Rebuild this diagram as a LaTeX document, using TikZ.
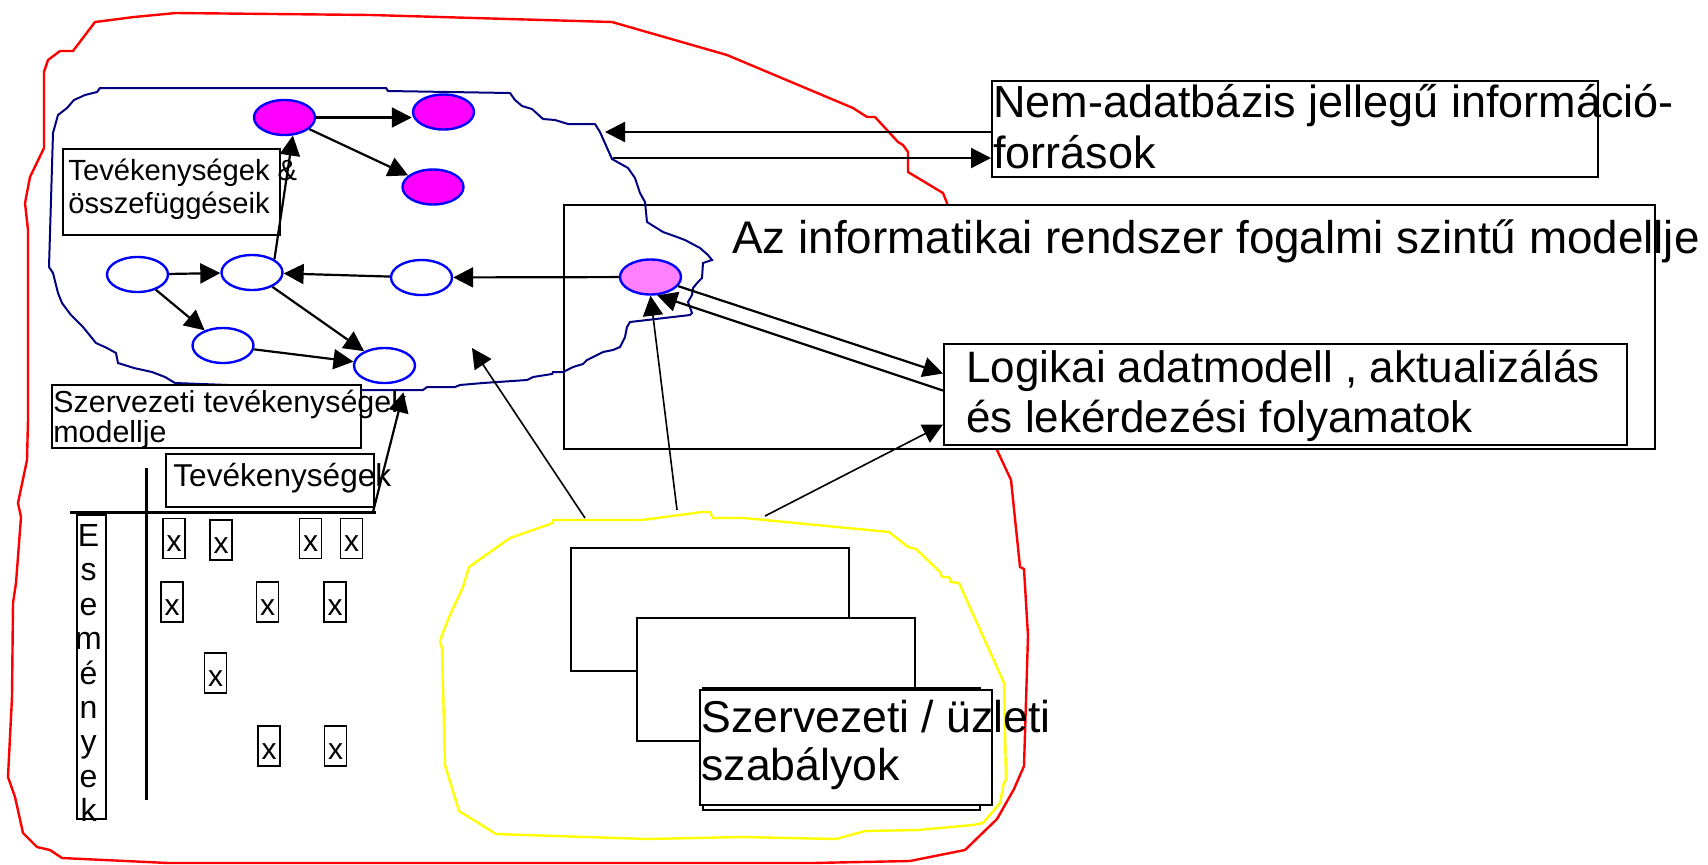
\documentclass[tikz,border=0pt]{standalone}
\usepackage{fontspec}
\setmainfont{Liberation Sans}
\usepackage{tikz}
\usetikzlibrary{shapes.geometric, arrows.meta, positioning}
\definecolor{cloudblue}{RGB}{0,0,128}
\definecolor{actpink}{RGB}{255,128,255}
\definecolor{actmagenta}{RGB}{255,0,255}
\definecolor{rulesyellow}{RGB}{255,255,0}
\definecolor{borderred}{RGB}{255,0,0}
\definecolor{actblue}{RGB}{0,0,255}
\tikzstyle{box} = [rectangle, draw=black, line width=1pt, fill=white, inner sep=0pt, anchor=north west]
\tikzstyle{txt} = [inner sep=0pt, align=left, anchor=base west]
\tikzstyle{act} = [ellipse, draw=actblue, line width=1.2pt, minimum width=30.5pt, minimum height=17.5pt, inner sep=0pt, fill=white]
\tikzstyle{actm} = [act, fill=actmagenta]
\tikzstyle{cell} = [rectangle, draw=black, line width=0.9pt, inner sep=0pt, minimum width=11pt, text height=16.5pt, text depth=3.5pt, font=\fontsize{15}{15}\selectfont]
\tikzstyle{arrow} = [line width=1.1pt, -{Triangle[length=10pt,width=10pt]}]
\tikzstyle{thinarrow} = [line width=0.8pt, -{Triangle[length=10pt,width=10pt]}]

\begin{document}
\begin{tikzpicture}[x=0.5pt, y=-0.5pt]
        \useasboundingbox (0,0) rectangle (1708,864);

        % outer red border
        \draw [borderred, line width=1.2pt] (23,833) -- (15,797) -- (8,777) -- (12,697) -- (13,603) -- (16,583) -- (21,517) -- (18,503) -- (27,460) -- (28,420) -- (28,230) -- (25,203) -- (30,177) -- (44,148) -- (44,72) -- (48,60) -- (60,51) -- (73,51) -- (95,22) -- (134,17) -- (176,13) -- (371,15) -- (612,22) -- (727,55) -- (853,108) -- (867,117) -- (875,117) -- (898,142) -- (903,145) -- (908,152) -- (908,172) -- (943,193) -- (947,203) -- (997,450) -- (1011,480) -- (1020,567) -- (1024,569) -- (1028,636) -- (1024,766) -- (1014,789) -- (997,819) -- (965,850) -- (910,861) -- (812,863) -- (393,863) -- (168,863) -- (62,858) -- (50,850) -- (37,847) -- cycle;

        \node (azbox) [box, minimum width=545.5pt, minimum height=122pt] at (563,204) {};

        % activity model cloud
        \draw [cloudblue, line width=1pt] (100,88) -- (386,88) -- (388,91) -- (510,93) -- (515,100) -- (522,106) -- (532,109) -- (543,119) -- (555,120) -- (568,124) -- (595,124) -- (600,132) -- (612,159) -- (628,168) -- (635,178) -- (640,193) -- (645,202) -- (647,222) -- (663,232) -- (677,237) -- (685,240) -- (700,248) -- (708,255) -- (712,260) -- (703,263) -- (702,278) -- (698,282) -- (693,288) -- (692,295) -- (688,302) -- (692,313) -- (690,315) -- (630,322) -- (627,327) -- (625,337) -- (620,347) -- (613,350) -- (603,352) -- (593,357) -- (587,360) -- (583,364) -- (573,367) -- (563,372) -- (553,372) -- (552,374) -- (533,377) -- (527,380) -- (483,383) -- (460,385) -- (455,387) -- (427,387) -- (423,390) -- (362,390) -- (175,383) -- (165,377) -- (152,372) -- (134,368) -- (118,363) -- (116,353) -- (107,348) -- (96,343) -- (83,327) -- (71,315) -- (62,303) -- (58,293) -- (53,273) -- (49,267) -- (53,133) -- (58,115) -- (67,108) -- (74,100) -- (85,95) -- (97,92) -- cycle;
        \coordinate (cloudina) at (605,132);
        \coordinate (cloudinb) at (613,158);
        \coordinate (cloudinc) at (472,348);

        % rules cloud
        \draw [rulesyellow, line width=1.2pt] (553,520) -- (642,520) -- (702,512) -- (710,512) -- (713,518) -- (744,518) -- (889,532) -- (908,547) -- (916,549) -- (940,572) -- (942,577) -- (949,577) -- (951,582) -- (959,583) -- (1004,683) -- (1006,780) -- (1004,782) -- (1000,803) -- (983,823) -- (973,825) -- (918,830) -- (865,831) -- (836,839) -- (742,837) -- (647,839) -- (496,834) -- (459,811) -- (445,765) -- (442,648) -- (440,642) -- (442,635) -- (449,617) -- (463,587) -- (465,580) -- (469,567) -- (510,538) -- (553,523) -- cycle;
        \coordinate (ytopa) at (585,518);
        \coordinate (ytopb) at (677,510);
        \coordinate (ytopc) at (765,516);

        \node (rule1) [box, minimum width=139pt, minimum height=61.5pt] at (570,547) {};
        \node (rule2) [box, minimum width=139pt, minimum height=61.5pt] at (636,617) {};
        \node (rule3b) [box, minimum width=138.5pt, minimum height=61pt] at (702,687) {};
        \node (rule3) [box, minimum width=146pt, minimum height=57.5pt] at (699,689) {};
        \node (rulestext) [txt, font=\fontsize{22.3}{24}\selectfont] at (701,780) {Szervezeti / üzleti\\szabályok};

        % boxes
        \node (nembox) [box, minimum width=303pt, minimum height=48pt] at (991,80) {};
        \node (nemtext) [txt, font=\fontsize{22.5}{25.5}\selectfont] at (993,168) {Nem-adatbázis jellegű információ-\\források};
        \node (aztext) [txt, font=\fontsize{22.9}{25}\selectfont] at (732,253) {Az informatikai rendszer fogalmi szintű modellje};
        \node (logbox) [box, minimum width=341.5pt, minimum height=50.5pt] at (943,343) {};
        \node (logtext) [txt, font=\fontsize{22}{25}\selectfont] at (966,432) {Logikai adatmodell , aktualizálás\\és lekérdezési folyamatok};
        \node (tevbox) [box, minimum width=108.5pt, minimum height=43pt] at (62,148) {};
        \node (tevtext) [txt, font=\fontsize{14.6}{16.5}\selectfont] at (68,213) {Tevékenységek \&\\összefüggéseik};
        \node (szmbox) [box, minimum width=154.5pt, minimum height=31.5pt] at (51,384) {};
        \node (szmtext) [txt, font=\fontsize{15.2}{15}\selectfont] at (53,442) {Szervezeti tevékenységek\\modellje};

        % activities
        \node (M1) [actm] at (284.5,117.5) {};
        \node (M2) [actm] at (443.5,112) {};
        \node (M3) [actm] at (433,187) {};
        \node (B1) [act] at (137.5,274.5) {};
        \node (B2) [act] at (252,272.5) {};
        \node (B3) [act] at (421.5,277.5) {};
        \node (B4) [act] at (223,345.5) {};
        \node (B5) [act] at (384.5,365.5) {};
        \node (P) [act, fill=actpink] at (650.5,277) {};

        \draw [arrow] (M1.east) -- (M1.east -| M2.west);
        \draw [arrow] (M1) -- (M3);
        \draw [arrow] (B2.north east) -- (M1.-65);
        \draw [arrow] (B1) -- (B2);
        \draw [arrow] (B1) -- (B4);
        \draw [arrow] (B3) -- (B2);
        \draw [arrow] (B2) -- (B5);
        \draw [arrow] (B4) -- (B5);
        \draw [arrow] (P) -- (B3);
        \draw [arrow] (nembox.west |- cloudina) -- (cloudina);
        \draw [arrow] (cloudinb) -- (cloudinb -| nembox.west);
        \draw [arrow] (P) -- ([yshift=10.5pt]logbox.west);
        \draw [arrow] ([yshift=2pt]logbox.west) -- (P.-70);
        \draw [thinarrow] (ytopa) -- (cloudinc);
        \draw [thinarrow] (ytopb) -- (P.south);
        \draw [thinarrow] (ytopc) -- ([yshift=-15pt]logbox.west);

        % events x activities table
        \node (tevkbox) [box, minimum width=104pt, minimum height=26.5pt] at (165,453) {};
        \node (tevktext) [txt, font=\fontsize{15.8}{16}\selectfont] at (173,486) {Tevékenységek};
        \draw [line width=1.5pt] (70,512) -- (376,512);
        \draw [line width=1.5pt] (146,468) -- (146,800);
        \coordinate (tabcorner) at (373,512);
        \draw [arrow, shorten >=7pt] (tabcorner) -- (B5.south east);
        \node (esembox) [box, minimum width=14.5pt, minimum height=152pt] at (76,514) {};
        \node (esemtext) [txt, anchor=north, align=center, font=\fontsize{16}{17.2}\selectfont] at (88.5,524) {E\\s\\e\\m\\é\\n\\y\\e\\k};

        \node (c1) [cell] at (174,538.5) {x};
        \node (c2) [cell] at (221,540) {x};
        \node (c3) [cell] at (310.5,538.5) {x};
        \node (c4) [cell] at (351.5,538.5) {x};
        \node (c5) [cell] at (172,602) {x};
        \node (c6) [cell] at (267.5,602) {x};
        \node (c7) [cell] at (335,602) {x};
        \node (c8) [cell] at (215.5,673) {x};
        \node (c9) [cell] at (269,746) {x};
        \node (c10) [cell] at (335.5,746) {x};
    \end{tikzpicture}
\end{document}
